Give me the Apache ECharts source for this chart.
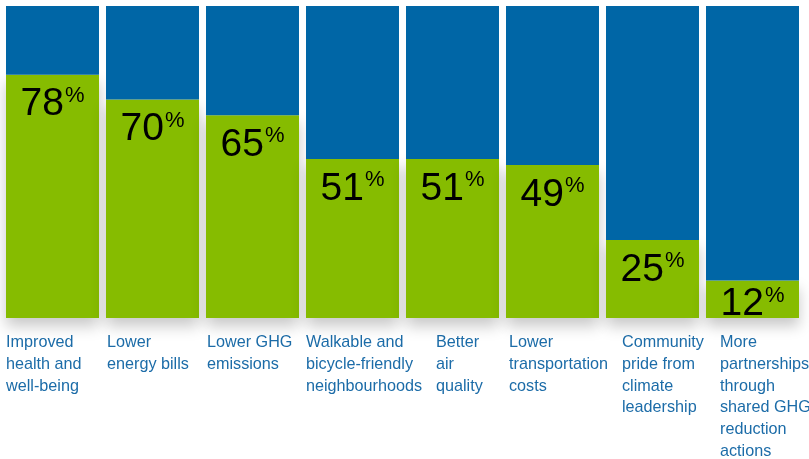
<!DOCTYPE html>
<html>
<head>
<meta charset="utf-8">
<script src="https://cdn.jsdelivr.net/npm/echarts@6/dist/echarts.min.js"></script>
<style>
html,body{margin:0;padding:0;background:#fff;}
#chart{width:809px;height:459px;}
</style>
</head>
<body>
<div id="chart"></div>
<script>
const categories = [
  "Improved\nhealth and\nwell-being",
  "Lower\nenergy bills",
  "Lower GHG\nemissions",
  "Walkable and\nbicycle-friendly\nneighbourhoods",
  "Better\nair\nquality",
  "Lower\ntransportation\ncosts",
  "Community\npride from\nclimate\nleadership",
  "More\npartnerships\nthrough\nshared GHG\nreduction\nactions"
];
const values = [78, 70, 65, 51, 51, 49, 25, 12];
const labelIndent = [0, 1, 1, 0, 30, 3, 16, 14];

const FONT = "'Liberation Sans', Arial, sans-serif";
const BLUE = '#0066a6';
const GREEN = '#86bc00';
const TEXT_BLUE = '#1c6ca8';

const rich = {};
labelIndent.forEach((p, i) => {
  rich['c' + i] = {
    width: 93 - p,
    padding: [0, 0, 0, p],
    align: 'left',
    fontFamily: FONT,
    fontSize: 16.2,
    lineHeight: 21.7,
    color: TEXT_BLUE
  };
});

const greenData = values.map((v, i) => {
  const item = { value: v };
  if (i === values.length - 1) {
    item.label = { distance: 4 };
  }
  return item;
});
const blueData = values.map(v => 100 - v);

const chart = echarts.init(document.getElementById('chart'));
chart.setOption({
  animation: false,
  grid: { left: 2.5, right: 6.5, top: 6, bottom: 141, containLabel: false, outerBoundsMode: 'none' },
  xAxis: {
    type: 'category',
    data: categories,
    axisLine: { show: false },
    axisTick: { show: false },
    axisLabel: {
      interval: 0,
      margin: 14,
      verticalAlign: 'top',
      hideOverlap: false,
      formatter: (val, idx) => val.split('\n').map(l => '{c' + idx + '|' + l + '}').join('\n'),
      rich: rich
    }
  },
  yAxis: { type: 'value', min: 0, max: 100, show: false },
  series: [
    {
      type: 'bar',
      stack: 's',
      barWidth: 93,
      data: greenData,
      itemStyle: {
        color: GREEN,
        shadowColor: 'rgba(0,0,0,0.22)',
        shadowBlur: 14,
        shadowOffsetY: 8
      },
      label: {
        show: true,
        position: 'insideTop',
        distance: 10,
        formatter: p => '{n|' + p.value + '}{p|%}',
        rich: {
          n: { fontFamily: FONT, fontSize: 39, lineHeight: 40, color: '#000' },
          p: { fontFamily: FONT, fontSize: 22, lineHeight: 18, color: '#000', verticalAlign: 'top', padding: [0, 0, 0, 1] }
        }
      },
      z: 2
    },
    {
      type: 'bar',
      stack: 's',
      barWidth: 93,
      data: blueData,
      itemStyle: { color: BLUE },
      z: 3
    }
  ]
});
</script>
</body>
</html>
